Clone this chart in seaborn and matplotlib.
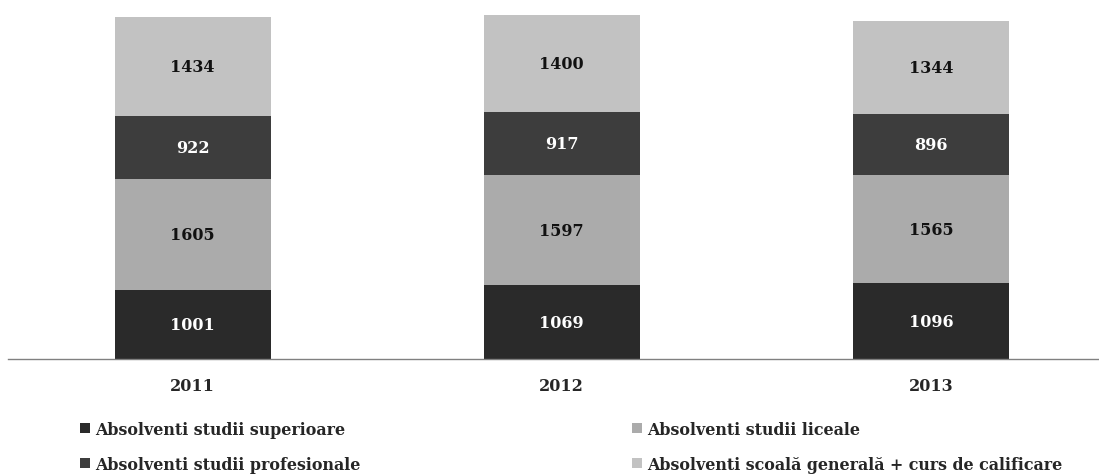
import numpy as np
import pandas as pd
import matplotlib
matplotlib.use("Agg")
import matplotlib.pyplot as plt
import seaborn as sns
from matplotlib.patches import Patch

# graduates by education level, 2011-2013 (stacked, bottom to top)
years = ["2011", "2012", "2013"]
superioare = [1001, 1069, 1096]
liceale = [1605, 1597, 1565]
profesionale = [922, 917, 896]
scoala = [1434, 1400, 1344]

series_names = [
    "Absolventi studii superioare",
    "Absolventi studii liceale",
    "Absolventi studii profesionale",
    "Absolventi scoală generală + curs de calificare",
]
series_vals = [superioare, liceale, profesionale, scoala]
colors = ["#2a2a2a", "#ababab", "#3d3d3d", "#c2c2c2"]
text_colors = ["white", "#111111", "white", "#111111"]

sns.set_style("white")
plt.rcParams["font.family"] = ["DejaVu Serif"]
num_font = {"family": ["DejaVu Serif"], "weight": "bold", "size": 11.5}

fig = plt.figure(figsize=(10.99, 4.77), dpi=100)
ax = fig.add_axes([8 / 1099, 117 / 477, 1091 / 1099, 360 / 477])

# cumulative tops, drawn from the top layer down so each covers the one above
df = pd.DataFrame({"year": years})
cum = np.cumsum(np.array(series_vals), axis=0)
for k in range(len(series_vals) - 1, -1, -1):
    df["top"] = cum[k]
    sns.barplot(data=df, x="year", y="top", color=colors[k], width=0.423,
                saturation=1, edgecolor="none", linewidth=0, ax=ax)

# value labels in the middle of each segment
for k, vals in enumerate(series_vals):
    for i, v in enumerate(vals):
        ax.text(i, cum[k][i] - v / 2, str(v), ha="center", va="center",
                color=text_colors[k], fontdict=num_font)

ax.set_xlim(-0.5, 2.455)
ax.set_ylim(0, 5220)
ax.set_xlabel("")
ax.set_ylabel("")
ax.set_yticks([])
for s in ["top", "right", "left"]:
    ax.spines[s].set_visible(False)
ax.spines["bottom"].set_color("#808080")
ax.spines["bottom"].set_linewidth(1)
ax.tick_params(axis="x", length=0, pad=13)
for lbl in ax.get_xticklabels():
    lbl.set_fontfamily(num_font["family"])
    lbl.set_fontsize(num_font["size"])
    lbl.set_fontweight("bold")

# legend: two separate columns so each can sit where the original has it
handles = [Patch(facecolor=c, edgecolor="none") for c in colors]
leg_kw = dict(loc="upper left", frameon=False,
              prop={"family": ["DejaVu Serif"], "weight": "bold", "size": 11.4},
              handlelength=0.6, handleheight=0.6, handletextpad=0.35,
              labelspacing=1.12, borderaxespad=0, borderpad=0)
col_x = [80, 632]
for c, idx in enumerate([[0, 2], [1, 3]]):
    fig.legend([handles[i] for i in idx], [series_names[i] for i in idx],
               bbox_to_anchor=(col_x[c] / 1099, 1 - 422 / 477), **leg_kw)

fig.savefig("out.png", dpi=100)
